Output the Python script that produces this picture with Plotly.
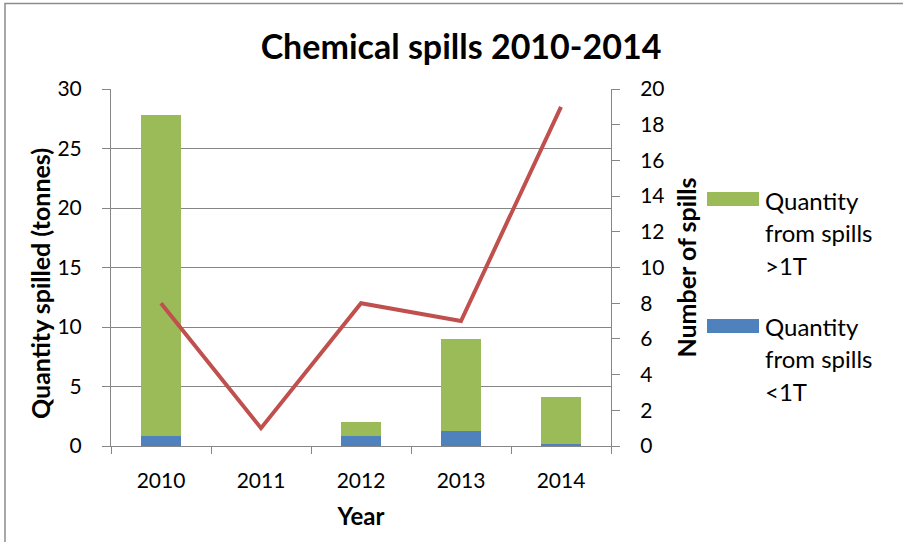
import plotly.graph_objects as go

# Chart data
years = ["2010", "2011", "2012", "2013", "2014"]
qty_small = [0.87, 0.0, 0.82, 1.26, 0.14]      # tonnes, spills < 1T
qty_large = [26.93, 0.0, 1.22, 7.74, 3.98]     # tonnes, spills > 1T
num_spills = [8, 1, 8, 7, 19]

name_large = ["Quantity", "from spills", ">1T"]
name_small = ["Quantity", "from spills", "<1T"]

GREEN = "#9BBB59"
BLUE = "#4F81BD"
RED = "#C0504D"
GRID = "#868686"
FONT = "Lato"

W, H = 903, 542
L, R, T, B = 111, 292, 89, 96
PW, PH = W - L - R, H - T - B


def px_x(px):
    return (px - L) / PW


def px_y(py):
    return 1 - (py - T) / PH


fig = go.Figure()
fig.add_trace(go.Bar(x=years, y=qty_small, name=" ".join(name_small),
                     marker=dict(color=BLUE, line=dict(width=0)), yaxis="y"))
fig.add_trace(go.Bar(x=years, y=qty_large, name=" ".join(name_large),
                     marker=dict(color=GREEN, line=dict(width=0)), yaxis="y"))
fig.add_trace(go.Scatter(x=years, y=num_spills, mode="lines", name="Number of spills",
                         line=dict(color=RED, width=4), yaxis="y2"))

# Outer chart border
shapes = [
    dict(type="rect", xref="paper", yref="paper", x0=px_x(5), x1=px_x(904),
         y0=px_y(545), y1=px_y(3.5), line=dict(color="#8c8c8c", width=1.5),
         fillcolor="rgba(0,0,0,0)", layer="below"),
]

# Left value-axis title, set slightly below the plot centre
annotations = [
    dict(text="<b>Quantity spilled (tonnes)</b>", xref="paper", yref="paper",
         x=px_x(40), y=px_y(284), xanchor="center", yanchor="middle",
         textangle=-90, showarrow=False,
         font=dict(family=FONT, size=25, color="black")),
]

# Custom legend: wide swatches with stacked text lines
for color, lines, y_top, y_text in [(GREEN, name_large, 192, 200), (BLUE, name_small, 319, 326)]:
    shapes.append(dict(type="rect", xref="paper", yref="paper",
                       x0=px_x(707), x1=px_x(759), y0=px_y(y_top + 14), y1=px_y(y_top),
                       fillcolor=color, line=dict(width=0)))
    for i, line in enumerate(lines):
        annotations.append(dict(text=line, xref="paper", yref="paper",
                                x=px_x(763), y=px_y(y_text + 32.5 * i),
                                xanchor="left", yanchor="middle", showarrow=False,
                                font=dict(family=FONT, size=24, color="black")))

fig.update_layout(
    width=W, height=H,
    margin=dict(l=L, r=R, t=T, b=B),
    paper_bgcolor="white", plot_bgcolor="white",
    barmode="stack", bargap=0.6,
    showlegend=False,
    font=dict(family=FONT, color="black"),
    title=dict(text="<b>Chemical spills 2010-2014</b>", x=461 / W,
               xanchor="center", y=1 - 47 / H, yanchor="middle",
               font=dict(family=FONT, size=34, color="black")),
    xaxis=dict(type="category", showline=True, linecolor=GRID, linewidth=1,
               ticks="outside", tickson="boundaries", ticklen=7, tickcolor=GRID,
               tickfont=dict(size=21), ticklabelstandoff=16,
               title=dict(text="<b>Year</b>", font=dict(size=24), standoff=16),
               showgrid=False),
    yaxis=dict(range=[0, 30], dtick=5, showline=True, linecolor=GRID, linewidth=1,
               ticks="outside", ticklen=8, tickcolor=GRID,
               showgrid=True, gridcolor=GRID, gridwidth=1,
               tickfont=dict(size=21), ticklabelstandoff=16,
               zeroline=False),
    yaxis2=dict(range=[0, 20], dtick=2, overlaying="y", side="right",
                showline=True, linecolor=GRID, linewidth=1,
                ticks="outside", ticklen=8, tickcolor=GRID, showgrid=False,
                tickfont=dict(size=21), ticklabelstandoff=16,
                title=dict(text="<b>Number of spills</b>", font=dict(size=25), standoff=14),
                zeroline=False),
    shapes=shapes,
    annotations=annotations,
)

fig.write_html("out.html")
